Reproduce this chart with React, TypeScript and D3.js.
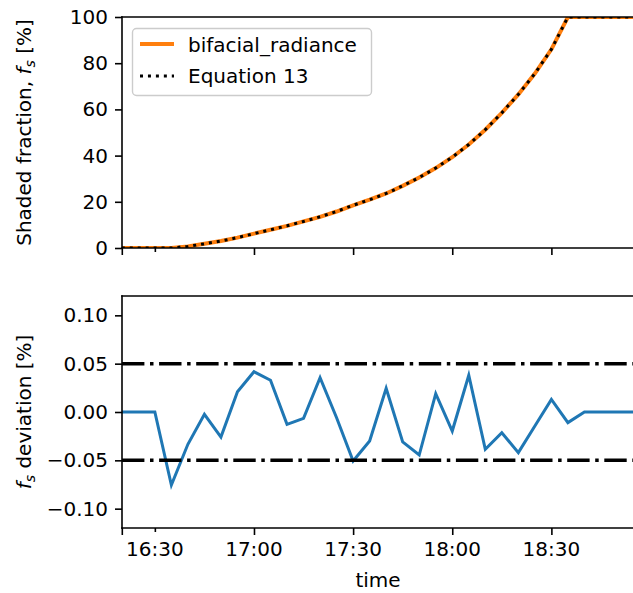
import React, { useEffect, useRef } from "react";
import * as d3 from "d3";

// 5 minute steps, 16:20 .. 18:55
const times = [
  "16:20", "16:25", "16:30", "16:35", "16:40", "16:45", "16:50", "16:55",
  "17:00", "17:05", "17:10", "17:15", "17:20", "17:25", "17:30", "17:35",
  "17:40", "17:45", "17:50", "17:55", "18:00", "18:05", "18:10", "18:15",
  "18:20", "18:25", "18:30", "18:35", "18:40", "18:45", "18:50", "18:55"
];

const bifacialRadiance = [
  0, 0, 0, 0, 0.7, 1.8, 3.0, 4.5,
  6.2, 7.9, 9.6, 11.5, 13.5, 15.8, 18.5, 20.9,
  23.6, 26.9, 30.5, 34.6, 39.3, 44.8, 51.2, 58.5,
  66.5, 75.5, 86.0, 100, 100, 100, 100, 100
];

const equation13 = [
  0, 0, 0, 0, 0.7, 1.8, 3.0, 4.5,
  6.2, 7.9, 9.6, 11.5, 13.5, 15.8, 18.5, 20.9,
  23.6, 26.9, 30.5, 34.6, 39.3, 44.8, 51.2, 58.5,
  66.5, 75.5, 86.0, 100, 100, 100, 100, 100
];

const deviation = [
  0, 0, 0, -0.0756, -0.0334, -0.0024, -0.0259, 0.021,
  0.0417, 0.0328, -0.0128, -0.0066, 0.0355, -0.006, -0.0507, -0.03,
  0.0245, -0.031, -0.0445, 0.019, -0.0197, 0.038, -0.0386, -0.0214,
  -0.042, -0.0145, 0.013, -0.011, 0, 0, 0, 0
];

const shadedTicks = [0, 20, 40, 60, 80, 100];
const deviationTicks = [-0.1, -0.05, 0, 0.05, 0.1];
const deviationBounds = [-0.05, 0.05];
const majorTimeTicks = ["16:20", "17:00", "17:30", "18:00", "18:30"];
const minorTimeTicks = ["16:30"];
const timeTickLabels = ["16:30", "17:00", "17:30", "18:00", "18:30"];

const FONT = "DejaVu Sans, sans-serif";

const App = () => {
  const ref = useRef<SVGSVGElement>(null);

  useEffect(() => {
    const svg = d3.select(ref.current);
    svg.selectAll("*").remove();

    const parse = d3.timeParse("%H:%M");
    const dates = times.map(t => parse(t) as Date);

    const left = 122;
    const right = 634;
    const top1 = 17, bottom1 = 248;
    const top2 = 296, bottom2 = 528;

    const x = d3
      .scaleTime()
      .domain([parse("16:20") as Date, parse("18:55") as Date])
      .range([121.8, right]);
    const yTop = d3.scaleLinear().domain([0, 100]).range([bottom1, top1]);
    const yBot = d3.scaleLinear().domain([-0.12, 0.12]).range([bottom2, top2]);

    const defs = svg.append("defs");
    defs.append("clipPath").attr("id", "clipTop")
      .append("rect").attr("x", left).attr("y", top1)
      .attr("width", right - left).attr("height", bottom1 - top1);
    defs.append("clipPath").attr("id", "clipBot")
      .append("rect").attr("x", left).attr("y", top2)
      .attr("width", right - left).attr("height", bottom2 - top2);

    // ---- top panel lines
    const lineTop = (vals: number[]) =>
      d3.line<number>().x((d, i) => x(dates[i])).y(d => yTop(d))(vals);

    const gTop = svg.append("g").attr("clip-path", "url(#clipTop)");
    gTop.append("path")
      .attr("d", lineTop(bifacialRadiance))
      .attr("fill", "none")
      .attr("stroke", "#ff7f0e")
      .attr("stroke-width", 4);
    gTop.append("path")
      .attr("d", lineTop(equation13))
      .attr("fill", "none")
      .attr("stroke", "#000")
      .attr("stroke-width", 3)
      .attr("stroke-dasharray", "3 4.95");

    // ---- bottom panel lines
    const gBot = svg.append("g").attr("clip-path", "url(#clipBot)");
    gBot.append("path")
      .attr("d", d3.line<number>().x((d, i) => x(dates[i])).y(d => yBot(d))(deviation))
      .attr("fill", "none")
      .attr("stroke", "#1f77b4")
      .attr("stroke-width", 3)
      .attr("stroke-linejoin", "miter");
    gBot.selectAll("line.bound")
      .data(deviationBounds)
      .enter()
      .append("line")
      .attr("x1", left)
      .attr("x2", right)
      .attr("y1", d => yBot(d))
      .attr("y2", d => yBot(d))
      .attr("stroke", "#000")
      .attr("stroke-width", 3.5)
      .attr("stroke-dasharray", "22.4 5.6 3.5 5.6");

    // ---- axes
    const styleAxis = (g: any) => {
      g.select(".domain").remove();
      g.selectAll("line").attr("stroke", "#000").attr("stroke-width", 1.6);
      g.selectAll("text")
        .attr("font-size", 20)
        .attr("font-family", FONT)
        .attr("fill", "#000");
      g.attr("font-family", FONT).attr("font-size", 20);
    };

    svg.append("g")
      .attr("transform", `translate(${left},0)`)
      .call(d3.axisLeft(yTop).tickValues(shadedTicks).tickSize(7).tickPadding(7).tickFormat(d3.format("d")))
      .call(styleAxis);

    const fmtDev = (d: any) => d3.format(".2f")(d).replace("-", "\u2212");
    svg.append("g")
      .attr("transform", `translate(${left},0)`)
      .call(d3.axisLeft(yBot).tickValues(deviationTicks).tickSize(7).tickPadding(7).tickFormat(fmtDev))
      .call(styleAxis);

    [bottom1, bottom2].forEach(yb => {
      svg.append("g")
        .attr("transform", `translate(0,${yb})`)
        .call(d3.axisBottom(x).tickValues(majorTimeTicks.map(t => parse(t) as Date)).tickSize(7).tickFormat(() => ""))
        .call(styleAxis);
      svg.append("g")
        .attr("transform", `translate(0,${yb})`)
        .call(d3.axisBottom(x).tickValues(minorTimeTicks.map(t => parse(t) as Date)).tickSize(4).tickFormat(() => ""))
        .call(styleAxis);
    });

    svg.append("g")
      .selectAll("text")
      .data(timeTickLabels)
      .enter()
      .append("text")
      .attr("x", d => x(parse(d) as Date))
      .attr("y", 556)
      .attr("text-anchor", "middle")
      .attr("font-family", FONT)
      .attr("font-size", 20)
      .text(d => d);

    // ---- spines
    const spine = (x1: number, y1: number, x2: number, y2: number) =>
      svg.append("line")
        .attr("x1", x1).attr("y1", y1).attr("x2", x2).attr("y2", y2)
        .attr("stroke", "#000")
        .attr("stroke-width", 1.6)
        .attr("stroke-linecap", "square");
    spine(left, top1, left, bottom1);
    spine(left, top1, 640, top1);
    spine(left, bottom1, 640, bottom1);
    spine(left, top2, left, bottom2);
    spine(left, top2, 640, top2);
    spine(left, bottom2, 640, bottom2);

    // ---- labels
    const yLabel1 = svg.append("text")
      .attr("transform", `translate(31,${(top1 + bottom1) / 2}) rotate(-90)`)
      .attr("text-anchor", "middle")
      .attr("font-family", FONT)
      .attr("font-size", 20);
    yLabel1.append("tspan").text("Shaded fraction, ");
    yLabel1.append("tspan").attr("font-style", "italic").text("f");
    yLabel1.append("tspan").attr("font-style", "italic").attr("font-size", 14).attr("dy", 4).text("s");
    yLabel1.append("tspan").attr("dy", -4).text(" [%]");

    const yLabel2 = svg.append("text")
      .attr("transform", `translate(31,${(top2 + bottom2) / 2}) rotate(-90)`)
      .attr("text-anchor", "middle")
      .attr("font-family", FONT)
      .attr("font-size", 20);
    yLabel2.append("tspan").attr("font-style", "italic").text("f");
    yLabel2.append("tspan").attr("font-style", "italic").attr("font-size", 14).attr("dy", 4).text("s");
    yLabel2.append("tspan").attr("dy", -4).text(" deviation [%]");

    svg.append("text")
      .attr("x", (left + right) / 2)
      .attr("y", 587)
      .attr("text-anchor", "middle")
      .attr("font-family", FONT)
      .attr("font-size", 20)
      .text("time");

    // ---- legend
    const lg = svg.append("g");
    lg.append("rect")
      .attr("x", 132.5).attr("y", 28.5)
      .attr("width", 239).attr("height", 67)
      .attr("rx", 4)
      .attr("fill", "#fff").attr("fill-opacity", 0.8)
      .attr("stroke", "#cccccc").attr("stroke-width", 1.4);
    lg.append("line")
      .attr("x1", 140).attr("x2", 174).attr("y1", 44).attr("y2", 44)
      .attr("stroke", "#ff7f0e").attr("stroke-width", 4);
    lg.append("line")
      .attr("x1", 140).attr("x2", 174).attr("y1", 76).attr("y2", 76)
      .attr("stroke", "#000").attr("stroke-width", 3)
      .attr("stroke-dasharray", "3 4.95");
    lg.append("text")
      .attr("x", 188).attr("y", 51.5)
      .attr("font-family", FONT).attr("font-size", 20)
      .text("bifacial_radiance");
    lg.append("text")
      .attr("x", 188).attr("y", 83)
      .attr("font-family", FONT).attr("font-size", 20)
      .text("Equation 13");
  }, []);

  return (
    <svg
      ref={ref}
      width={633}
      height={593}
      style={{ position: "absolute", left: 0, top: 0, background: "#fff" }}
    />
  );
};

export default App;
